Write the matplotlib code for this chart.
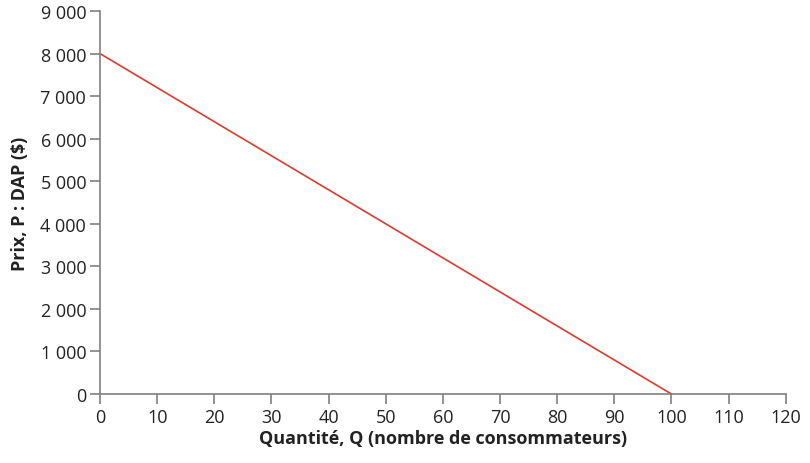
import matplotlib
matplotlib.use('Agg')
import matplotlib.pyplot as plt
from matplotlib.ticker import FuncFormatter

# demand curve end points
quantity = [0, 100]
price = [8000, 0]

x_ticks = list(range(0, 121, 10))
y_ticks = list(range(0, 9001, 1000))

plt.rcParams['font.family'] = ['Open Sans', 'DejaVu Sans']

fig = plt.figure(figsize=(8.1, 4.64), dpi=100)
ax = fig.add_axes([0.1235, 0.1487, 0.8465, 0.8253])

ax.plot(quantity, price, color='#e03a2c', linewidth=1.2, clip_on=False)

ax.set_xlim(0, 120)
ax.set_ylim(0, 9000)
ax.set_xticks(x_ticks)
ax.set_yticks(y_ticks)
ax.yaxis.set_major_formatter(FuncFormatter(lambda v, p: f'{int(v):,}'.replace(',', ' ')))

grey = '#808080'
for side in ['top', 'right']:
    ax.spines[side].set_visible(False)
for side in ['left', 'bottom']:
    ax.spines[side].set_color(grey)
    ax.spines[side].set_linewidth(1.2)
ax.tick_params(colors=grey, labelcolor='#222222', labelsize=13, length=7, width=1.2, pad=3)

ax.set_xlabel('Quantité, Q (nombre de consommateurs)', fontsize=13, fontweight='bold', color='#222222', labelpad=2)
ax.set_ylabel('Prix, P : DAP ($)', fontsize=13, fontweight='bold', color='#222222', labelpad=8)

fig.savefig('out.png', dpi=100)
